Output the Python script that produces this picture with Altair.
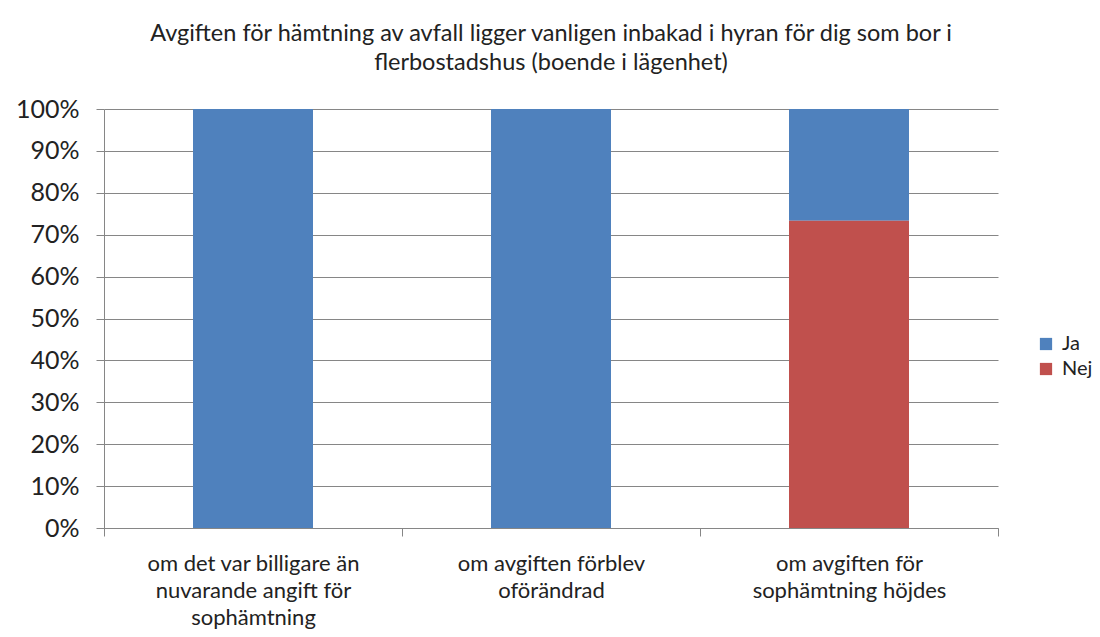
import altair as alt
import pandas as pd

title_lines = [
    "Avgiften för hämtning av avfall ligger vanligen inbakad i hyran för dig som bor i",
    "flerbostadshus (boende i lägenhet)",
]
categories = [
    "om det var billigare än\nnuvarande angift för\nsophämtning",
    "om avgiften förblev\noförändrad",
    "om avgiften för\nsophämtning höjdes",
]
series_names = ["Ja", "Nej"]
ja_values = [1.0, 1.0, 0.267]
nej_values = [0.0, 0.0, 0.733]
series_colors = ["#4F81BD", "#C0504D"]
y_ticks = [0.0, 0.1, 0.2, 0.3, 0.4, 0.5, 0.6, 0.7, 0.8, 0.9, 1.0]

rows = []
for cat, ja, nej in zip(categories, ja_values, nej_values):
    rows.append({"kategori": cat, "serie": "Ja", "andel": ja, "rank": 1})
    rows.append({"kategori": cat, "serie": "Nej", "andel": nej, "rank": 0})
df = pd.DataFrame(rows)

FONT = "Lato"
GRAY = "#868686"
TXT = "#222222"

chart = (
    alt.Chart(df)
    .mark_bar(size=120)
    .encode(
        x=alt.X(
            "kategori:N",
            sort=categories,
            scale=alt.Scale(paddingInner=0, paddingOuter=0),
            axis=alt.Axis(
                title=None,
                labelAngle=0,
                labelExpr="split(datum.label, '\\n')",
                labelFont=FONT,
                labelFontSize=22,
                labelLineHeight=27,
                labelColor=TXT,
                labelPadding=17,
                labelBaseline="top",
                labelLimit=0,
                tickBand="extent",
                tickSize=8,
                tickColor=GRAY,
                domainColor=GRAY,
                grid=False,
            ),
        ),
        y=alt.Y(
            "andel:Q",
            stack="zero",
            scale=alt.Scale(domain=[0, 1], nice=False),
            axis=alt.Axis(
                title=None,
                values=y_ticks,
                format=".0%",
                labelFont=FONT,
                labelFontSize=25,
                labelColor=TXT,
                labelPadding=17,
                tickSize=8,
                tickColor=GRAY,
                domainColor=GRAY,
                grid=True,
                gridColor=GRAY,
            ),
        ),
        color=alt.Color(
            "serie:N",
            scale=alt.Scale(domain=series_names, range=series_colors),
            legend=alt.Legend(
                title=None,
                orient="none",
                legendX=932,
                legendY=225,
                symbolType="square",
                symbolSize=150,
                symbolStrokeWidth=0,
                labelFont=FONT,
                labelFontSize=20,
                labelColor=TXT,
                labelOffset=6,
                labelLimit=0,
                rowPadding=5,
            ),
        ),
        order=alt.Order("rank:Q", sort="ascending"),
    )
    .properties(
        width=894,
        height=419,
        padding={"left": 96, "top": 101, "right": 94, "bottom": 101},
        autosize=alt.AutoSizeParams(type="none"),
        title=alt.TitleParams(
            text=title_lines,
            font=FONT,
            fontSize=23.5,
            fontWeight="normal",
            color=TXT,
            lineHeight=29,
            anchor="middle",
            frame="group",
            offset=23,
        ),
    )
    .configure_view(strokeWidth=0)
)

chart.save("out.html", embed_options={"renderer": "svg", "actions": False})
